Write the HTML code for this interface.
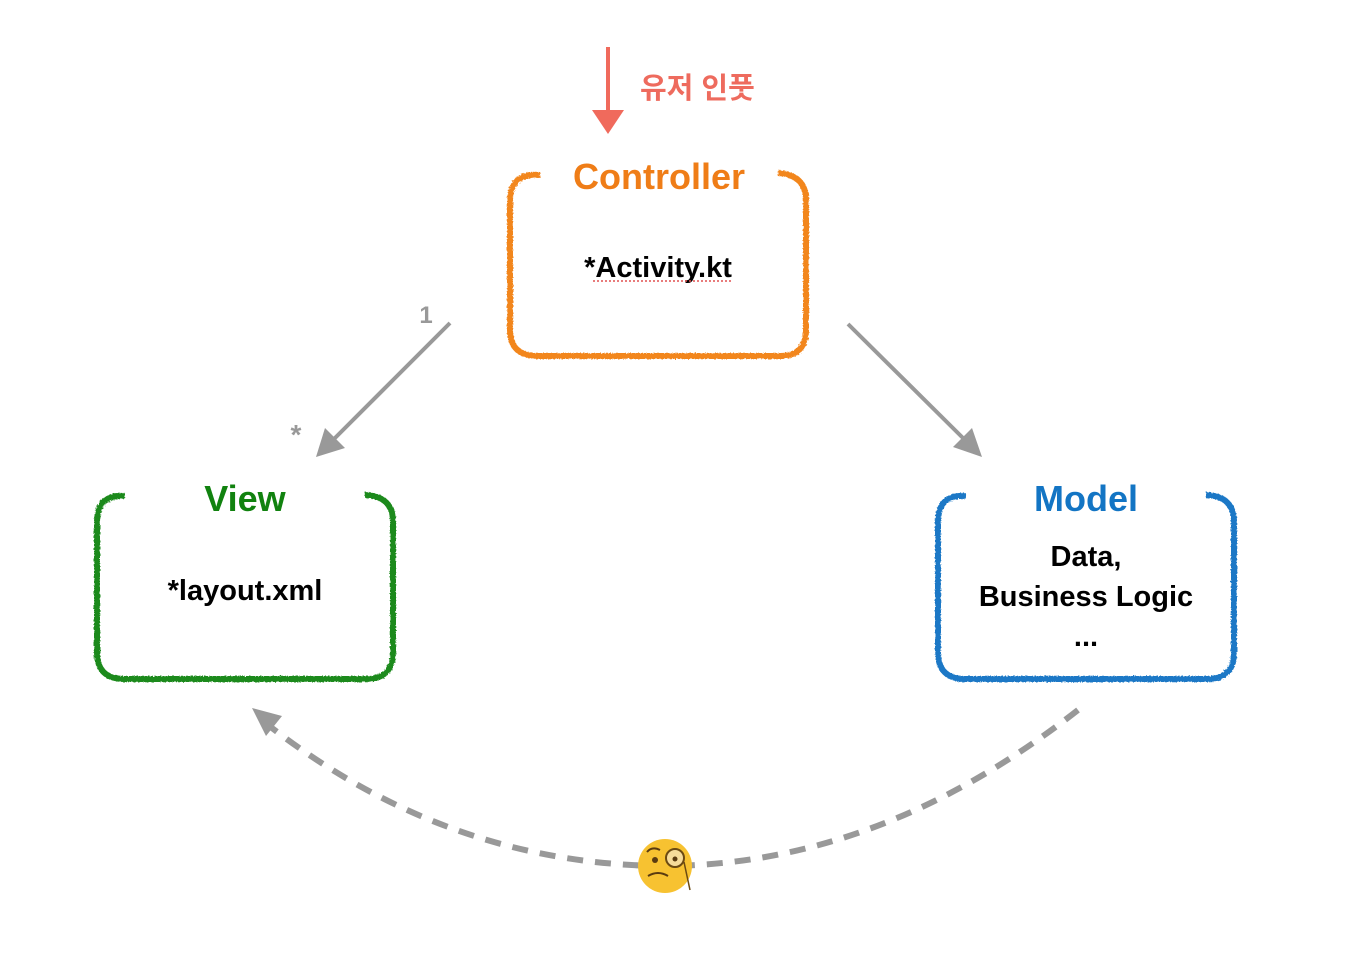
<!DOCTYPE html>
<html><head><meta charset="utf-8"><style>
html,body{margin:0;padding:0;background:#fff;width:1370px;height:978px;overflow:hidden}
text{font-family:"Liberation Sans","Noto Sans CJK KR",sans-serif}
</style></head><body>
<svg width="1370" height="978" viewBox="0 0 1370 978" xmlns="http://www.w3.org/2000/svg">
<defs>
<filter id="rough"><feTurbulence type="fractalNoise" baseFrequency="0.6" numOctaves="2" result="n"/><feDisplacementMap in="SourceGraphic" in2="n" scale="3"/></filter>
</defs>
<line x1="608" y1="47" x2="608" y2="112" stroke="#f06a5c" stroke-width="4"/>
<polygon points="592,110 624,110 608,134" fill="#f06a5c"/>
<text x="640" y="98" font-size="29" font-weight="bold" fill="#ee6b5e">유저 인풋</text>
<g filter="url(#rough)">
<path d="M540,175 Q510,172 510,202 L510,330 Q510,356 538,356 L780,356 Q806,356 806,330 L806,200 Q806,175 778,173" fill="none" stroke="#f2861d" stroke-width="6"/>
<path d="M125,496 Q97,494 97,522 L97,652 Q97,679 124,679 L366,679 Q393,679 393,652 L393,522 Q393,496 365,495" fill="none" stroke="#1f8a1f" stroke-width="6"/>
<path d="M966,496 Q938,494 938,522 L938,652 Q938,679 965,679 L1207,679 Q1234,679 1234,652 L1234,522 Q1234,496 1206,495" fill="none" stroke="#1a78c6" stroke-width="6"/>
</g>
<text x="659" y="189" font-size="36" font-weight="bold" fill="#ef7d17" text-anchor="middle">Controller</text>
<text x="658" y="277" font-size="29" font-weight="bold" fill="#000" text-anchor="middle">*Activity.kt</text>
<line x1="593" y1="281" x2="733" y2="281" stroke="#e05050" stroke-width="1.5" stroke-dasharray="2,2"/>
<text x="245" y="511" font-size="36" font-weight="bold" fill="#11820f" text-anchor="middle">View</text>
<text x="245" y="600" font-size="29" font-weight="bold" fill="#000" text-anchor="middle">*layout.xml</text>
<text x="1086" y="511" font-size="36" font-weight="bold" fill="#1375c4" text-anchor="middle">Model</text>
<text x="1086" y="566" font-size="29" font-weight="bold" fill="#000" text-anchor="middle">Data,</text>
<text x="1086" y="606" font-size="29" font-weight="bold" fill="#000" text-anchor="middle">Business Logic</text>
<text x="1086" y="646" font-size="29" font-weight="bold" fill="#000" text-anchor="middle">...</text>
<line x1="450" y1="323" x2="332" y2="441" stroke="#999" stroke-width="4"/>
<polygon points="316,457 325,428 345,448" fill="#999"/>
<text x="426" y="323" font-size="24" font-weight="bold" fill="#999" text-anchor="middle">1</text>
<text x="296" y="444" font-size="28" font-weight="bold" fill="#999" text-anchor="middle">*</text>
<line x1="848" y1="324" x2="966" y2="441" stroke="#999" stroke-width="4"/>
<polygon points="982,457 953,447 972,428" fill="#999"/>
<path d="M1078,710 Q880,865 665,866 Q450,865 272,728" fill="none" stroke="#999" stroke-width="6" stroke-dasharray="16,12"/>
<polygon points="252,708 282,716 266,736" fill="#999"/>
<circle cx="665" cy="866" r="27" fill="#f7c231"/>
<circle cx="675" cy="858" r="9" fill="#f6dc9a" stroke="#6b4a12" stroke-width="2"/>
<circle cx="675" cy="859" r="2.5" fill="#5a3b10"/>
<path d="M647,852 Q652,846 660,850" stroke="#5a3b10" stroke-width="2" fill="none"/>
<circle cx="655" cy="860" r="3" fill="#5a3b10"/>
<path d="M648,876 Q658,870 668,876" stroke="#5a3b10" stroke-width="2" fill="none"/>
<line x1="684" y1="862" x2="690" y2="890" stroke="#6b4a12" stroke-width="1.5"/>
</svg>
</body></html>
